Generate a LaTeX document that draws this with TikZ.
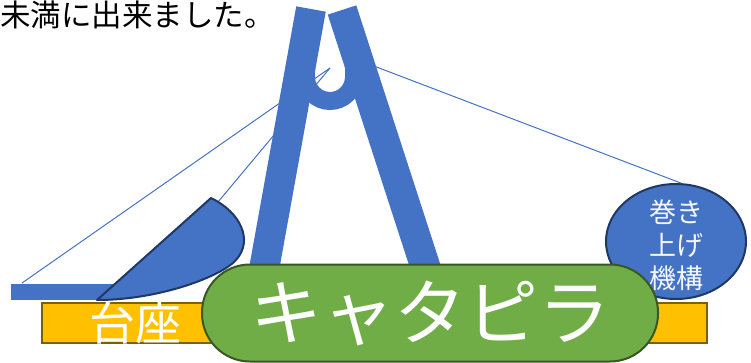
\documentclass[tikz,border=0pt]{standalone}
\usepackage{fontspec}
\newfontfamily\jpfont{Noto Sans CJK JP}
\usetikzlibrary{shapes.geometric,positioning,calc}
\definecolor{BluePart}{RGB}{68,114,196}
\definecolor{BlueEdge}{RGB}{32,56,100}
\definecolor{Amber}{RGB}{255,192,0}
\definecolor{AmberEdge}{RGB}{127,96,0}
\definecolor{TrackGreen}{RGB}{112,173,71}
\definecolor{TrackEdge}{RGB}{56,87,35}
\tikzset{
  legbar/.style={line width=30pt, BluePart},
  hookbar/.style={line width=18pt, BluePart},
  wire/.style={line width=1pt, BluePart},
  basebox/.style={draw=AmberEdge, line width=2pt, fill=Amber,
    minimum width=665pt, minimum height=40pt, inner sep=0pt},
  trackbox/.style={draw=TrackEdge, line width=2pt, fill=TrackGreen, rounded corners=48pt,
    minimum width=456pt, minimum height=97pt, inner sep=0pt,
    text=white, font=\jpfont\fontsize{72}{72}\selectfont},
  winchbox/.style={ellipse, draw=BlueEdge, line width=2pt, fill=BluePart,
    minimum width=140pt, minimum height=115pt, inner sep=0pt},
  winchtext/.style={inner sep=0pt, text=white!94!BluePart, align=center,
    font=\jpfont\fontsize{27}{33}\selectfont},
  labeltext/.style={inner sep=0pt, text=white, font=\jpfont\fontsize{#1}{#1}\selectfont},
  labeltext/.default=46,
}
\begin{document}
\begin{tikzpicture}[x=1pt, y=-1pt]
  \useasboundingbox (0,0) rectangle (751,363);
  % wire anchor points
  \coordinate (tip) at (330,68);
  \coordinate (beamend) at (22,283);
  \coordinate (jibedge) at (218,202);
  \coordinate (legclamp) at (366,63);
  \node[winchbox] (winch) at (676,241.5) {};
  \node[winchtext] (winchlabel) at ($(winch.center)+(0,4)$) {巻き\\上げ\\機構};

  % wires run behind the frame
  \draw[wire] (beamend) -- (tip);
  \draw[wire] (jibedge) -- (tip);
  \draw[wire] (legclamp) -- (winch.85);

  % beam, legs and hook
  \fill[BluePart] (11,284) rectangle (118,300);
  \draw[legbar] (311,9) -- (263,275);
  \draw[legbar] (342,10) -- (428,275);
  \draw[hookbar] (306,66) -- (306,77)
    .. controls (306,90.25) and (316.75,101) .. (330,101)
    .. controls (343.25,101) and (354,90.25) .. (354,77) -- (354,66);

  % jib
  \filldraw[fill=BluePart, draw=BlueEdge, line width=2pt, line join=round]
    (97,300) -- (211,198) .. controls (240,212) and (254,240) .. (236,260)
    .. controls (222,276) and (160,300) .. (97,300) -- cycle;

  \node[basebox] (base) at (374.5,323) {};
  \node[labeltext] (baselabel) at (135,323) {台座};
  \node[trackbox] (track) at (430,313) {キャタピラ};

  \node[anchor=west, inner sep=0pt, font=\jpfont\fontsize{30.5}{30.5}\selectfont]
    (note) at (0,14.5) {未満に出来ました。};
\end{tikzpicture}
\end{document}
